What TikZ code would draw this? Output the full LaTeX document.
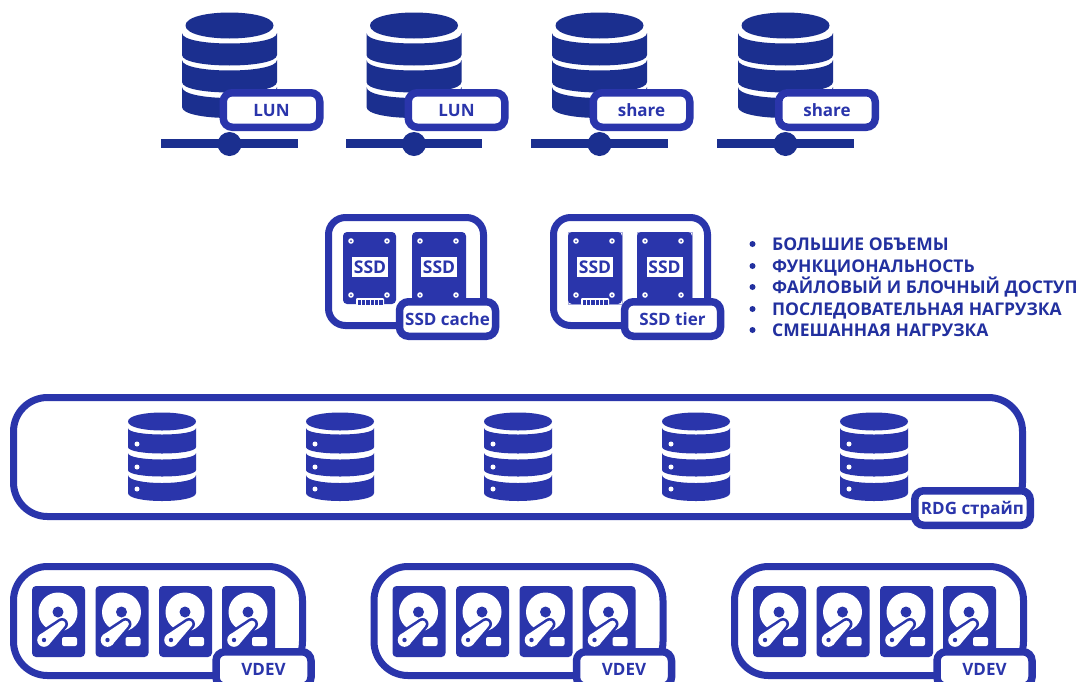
\documentclass[tikz,border=0pt]{standalone}
\usepackage{fontspec}
\setmainfont{Open Sans}
\definecolor{dbdark}{HTML}{1B2F8F}
\definecolor{boxblue}{HTML}{2A35AB}
\definecolor{txtblue}{HTML}{22309F}
\tikzset{
  framebox/.style={draw=boxblue,line width=7pt,fill=white},
  tagbox/.style={draw=boxblue,line width=7.5pt,fill=white,rounded corners=9pt,minimum height=34.5pt,
     inner sep=0pt,text=boxblue,font=\bfseries\fontsize{17}{17}\selectfont,text height=12pt,text depth=0pt},
  ssdtag/.style={fill=white,text=boxblue,inner sep=0pt,minimum width=36pt,minimum height=20pt,
     font=\bfseries\fontsize{17.5}{17}\selectfont,text height=12.5pt,text depth=0pt},
  listline/.style={anchor=base west,inner sep=0pt,text=txtblue,font=\bfseries\fontsize{17.5}{18}\selectfont},
}
\newcommand{\dbband}[6]{% cx, half width, y1, y2, bulge, colour
  \fill[#6] ({#1-#2},#3) -- ({#1-#2},#4) .. controls ({#1-#2},{#4+#5*1.333}) and ({#1+#2},{#4+#5*1.333}) .. ({#1+#2},#4)
    -- ({#1+#2},#3) .. controls ({#1+#2},{#3+#5*1.333}) and ({#1-#2},{#3+#5*1.333}) .. cycle;}
\newcommand{\dbtop}[5]{% cx, half width, cy, ry, colour
  \fill[#5] ({#1-#2},#3) .. controls ({#1-#2},{#3-#4*1.333}) and ({#1+#2},{#3-#4*1.333}) .. ({#1+#2},#3)
     .. controls ({#1+#2},{#3+#4*1.333}) and ({#1-#2},{#3+#4*1.333}) .. cycle;}
\newcommand{\bigdb}[1]{%
  \dbtop{#1}{44}{25.5}{13}{dbdark}
  \dbband{#1}{47.5}{33}{55}{10.5}{dbdark}
  \dbband{#1}{47.5}{60}{82}{10.5}{dbdark}
  \dbband{#1}{47.5}{87}{107}{11}{dbdark}}
\newcommand{\smalldb}[1]{%
  \dbtop{#1}{34}{421.5}{9}{boxblue}
  \dbband{#1}{34}{428}{447}{6.5}{boxblue}
  \dbband{#1}{34}{453}{470}{6.5}{boxblue}
  \dbband{#1}{34}{475}{493}{8}{boxblue}
  \foreach \yy in {444,467,489}{\fill[white] ({#1-25},\yy) circle[radius=2.5];}}
\newcommand{\ssdicon}[3]{% left x, width, connector type
  \fill[boxblue,rounded corners=4pt] (#1,232) rectangle ({#1+#2},304);
  \foreach \xx/\yy in {8/241,44/241,8/295,44/295}{
    \fill[white] ({#1+\xx},\yy) circle[radius=2.8];
    \fill[boxblue] ({#1+\xx},\yy) circle[radius=1];}
  \ifnum#3=1
    \fill[white,rounded corners=1pt] ({#1+13},298) rectangle ({#1+41},305);
    \fill[boxblue] ({#1+14.5},299.5) rectangle ({#1+39.5},305);
    \foreach \k in {1,...,5}{\fill[white] ({#1+14.5+\k*4.2-.5},299.5) rectangle ({#1+14.5+\k*4.2+.5},305);}
  \else
    \fill[white] ({#1+15},297.5) rectangle ({#1+40},298.5);
  \fi}
\newcommand{\armshape}[3]{% colour, pivot radius, tip radius
  \fill[#1] (12,640) circle[radius=#2];
  \fill[#1] (30,624) circle[radius=#3];
  \fill[#1] ({12+.66*#2},{640+.75*#2}) -- ({30+.66*#3},{624+.75*#3}) -- ({30-.66*#3},{624-.75*#3}) -- ({12-.66*#2},{640-.75*#2}) -- cycle;}
\newcommand{\diskicon}[1]{%
  \begin{scope}[shift={(#1,0)}]
    \fill[boxblue,rounded corners=4pt] (0,586) rectangle (53,657);
    \fill[white] (26,612) circle[radius=19.5];
    \fill[boxblue] (26,612) circle[radius=5.5];
    \fill[white,rounded corners=2pt] (30,637) rectangle (45,646);
    \armshape{boxblue}{9.5}{6}
    \armshape{white}{6.8}{3.4}
    \fill[boxblue] (12,640) circle[radius=2.2];
  \end{scope}}
\newcommand{\vdevgroup}[2]{% offset, name
  \begin{scope}[shift={(#1,0)}]
    \draw[framebox,rounded corners=34pt] (13.5,566.5) rectangle (302.5,675.5);
    \diskicon{32}\diskicon{95.5}\diskicon{159}\diskicon{222}
    \node[tagbox,minimum width=95pt] (#2) at (263.5,669) {VDEV};
  \end{scope}}
\newcommand{\storage}[4]{% db centre x, tag centre x, name, text
  \bigdb{#1}
  \fill[dbdark] ({#1-68.5},139) rectangle ({#1+68},148);
  \fill[dbdark] (#1,144) circle[radius=12];
  \node[tagbox,minimum width=96.5pt] (#3) at (#2,110) {#4};}
\begin{document}
\begin{tikzpicture}[x=1pt,y=-1pt]
\useasboundingbox (0,0) rectangle (1079,681);
\fill[white] (0,0) rectangle (1079,681);
\storage{229.5}{271.5}{lunA}{LUN}
\storage{414}{456.5}{lunB}{LUN}
\storage{599.5}{641.5}{shareA}{share}
\storage{785.5}{827}{shareB}{share}

\draw[framebox,rounded corners=17pt] (328.5,217.5) rectangle (483.5,325.5);
\ssdicon{343}{53}{1}\ssdicon{412}{54}{2}
\node[ssdtag] (ssdA) at (370,267) {SSD};
\node[ssdtag] (ssdB) at (439,267) {SSD};
\node[tagbox,minimum width=96pt] (cache) at (447.5,319) {SSD cache};

\draw[framebox,rounded corners=17pt] (553.5,217.5) rectangle (707.5,325.5);
\draw[boxblue!40,line width=.4pt] (568,232) rectangle (622,304);
\draw[boxblue!40,line width=.4pt] (637,232) rectangle (692,304);
\ssdicon{568}{54}{1}\ssdicon{637}{55}{2}
\node[ssdtag] (ssdC) at (595,267) {SSD};
\node[ssdtag] (ssdD) at (664.5,267) {SSD};
\node[tagbox,minimum width=96pt] (tier) at (672.5,319) {SSD tier};

\foreach \yy in {244,266,287,309,330}{\fill[txtblue] (752.5,\yy) circle[radius=3];}
\node[listline] (l1) at (772,250) {БОЛЬШИЕ ОБЪЕМЫ};
\node[listline] (l2) at (772,272) {ФУНКЦИОНАЛЬНОСТЬ};
\node[listline] (l3) at (772,293) {ФАЙЛОВЫЙ И БЛОЧНЫЙ ДОСТУП};
\node[listline] (l4) at (772,315) {ПОСЛЕДОВАТЕЛЬНАЯ НАГРУЗКА};
\node[listline] (l5) at (772,336) {СМЕШАННАЯ НАГРУЗКА};

\draw[framebox,rounded corners=34pt] (13.5,397.5) rectangle (1022.5,516.5);
\smalldb{162}\smalldb{340}\smalldb{518}\smalldb{696}\smalldb{874}
\node[tagbox,minimum width=115.5pt] (rdg) at (972.5,508) {RDG страйп};

\vdevgroup{0}{vdevA}
\vdevgroup{360.5}{vdevB}
\vdevgroup{721}{vdevC}
\end{tikzpicture}
\end{document}
